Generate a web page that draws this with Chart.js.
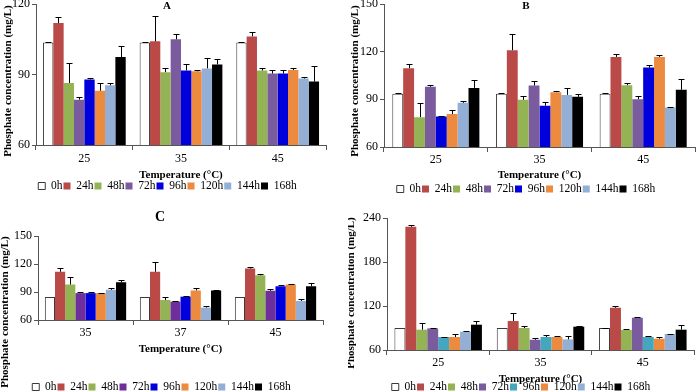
<!DOCTYPE html>
<html><head><meta charset="utf-8">
<script src="https://cdn.jsdelivr.net/npm/chart.js@4/dist/chart.umd.min.js"></script>
<style>
html,body{margin:0;padding:0;background:#fff;overflow:hidden;width:696px;height:391px;}
canvas{position:absolute;}
</style></head><body>
<canvas id="cA" width="348" height="205" style="left:0;top:0"></canvas>
<canvas id="cB" width="348" height="205" style="left:348px;top:0"></canvas>
<canvas id="cC" width="348" height="210" style="left:0;top:196px"></canvas>
<canvas id="cD" width="348" height="210" style="left:348px;top:196px"></canvas>
<script>
// ---- data ----
const seriesLabels = ['0h','24h','48h','72h','96h','120h','144h','168h'];
const tempsA = ['25','35','45'];
const tempsB = ['25','35','45'];
const tempsC = ['35','37','45'];
const tempsD = ['25','35','45'];
const ticksA = [60, 90, 120];
const ticksB = [60, 90, 120, 150];
const ticksC = [60, 90, 120, 150];
const ticksD = [60, 120, 180, 240];

// rows = series (0h..168h), columns = temperatures
const meanA = [
  [103.6, 103.6, 103.6],
  [111.9, 104.1, 106.2],
  [86.4, 91.0, 91.7],
  [79.3, 105.0, 90.4],
  [87.9, 91.7, 90.4],
  [83.1, 91.4, 91.9],
  [85.4, 92.6, 88.3],
  [97.4, 94.3, 87.0]
];
const errA = [
  [0.3, 0.3, 0.3],
  [2.4, 10.9, 1.7],
  [8.6, 1.9, 1.0],
  [1.0, 2.4, 1.5],
  [0.7, 2.6, 1.5],
  [3.3, 0.6, 1.0],
  [1.0, 4.5, 0.6],
  [4.7, 2.1, 6.6]
];
const meanB = [
  [93.5, 93.5, 93.5],
  [109.6, 120.9, 116.7],
  [78.8, 89.7, 98.9],
  [97.9, 98.7, 90.1],
  [79.2, 86.0, 110.0],
  [80.7, 94.5, 116.7],
  [87.8, 92.8, 84.9],
  [97.2, 91.6, 96.0]
];
const errB = [
  [0.4, 0.4, 0.4],
  [2.5, 10.0, 1.7],
  [8.8, 2.3, 1.3],
  [1.0, 2.7, 1.9],
  [0.3, 2.4, 1.7],
  [2.7, 1.0, 1.1],
  [1.3, 4.2, 0.3],
  [4.9, 1.7, 6.7]
];
const meanC = [
  [84.6, 84.6, 84.6],
  [111.7, 111.7, 115.2],
  [98.0, 81.4, 107.9],
  [88.8, 79.7, 91.3],
  [88.8, 85.0, 96.2],
  [88.8, 91.7, 98.0],
  [92.3, 73.3, 80.4],
  [100.5, 91.7, 96.2]
];
const errC = [
  [0, 0, 0],
  [3.5, 10.9, 1.8],
  [8.5, 3.2, 1.7],
  [1.0, 0.4, 1.4],
  [1.0, 0.7, 1.8],
  [0.3, 2.4, 1.1],
  [1.8, 1.8, 1.8],
  [2.1, 0.3, 3.9]
];
const meanD = [
  [90.0, 90.0, 90.0],
  [228.1, 99.5, 117.7],
  [87.7, 90.0, 87.3],
  [89.5, 74.0, 104.0],
  [77.7, 77.7, 77.7],
  [77.7, 77.7, 75.4],
  [85.0, 74.5, 81.8],
  [94.5, 91.8, 87.7]
];
const errD = [
  [0, 0, 0.5],
  [2.3, 10.9, 2.3],
  [9.1, 2.7, 1.3],
  [0.9, 2.8, 0.9],
  [0.5, 2.8, 0.9],
  [4.5, 0.9, 2.3],
  [0.9, 4.6, 0.5],
  [5.0, 0.9, 6.8]
];

// ---- styles ----
const colorsAB = ['#FFFFFF','#B94A47','#94B355','#7A5C9E','#0000DD','#EC8A40','#94AFD6','#000000'];
const colorsC  = ['#FFFFFF','#B94A47','#94B355','#6E2F9C','#0000DD','#EC8A40','#94AFD6','#000000'];
const colorsD  = ['#FFFFFF','#B94A47','#94B355','#7A5C9E','#45A6BF','#EC8A40','#94AFD6','#000000'];

Chart.defaults.font.family = '"Liberation Serif", "Times New Roman", serif';
Chart.defaults.color = '#000';

const errorBars = {
  id: 'errorBars',
  afterDatasetsDraw(chart) {
    const ctx = chart.ctx, ys = chart.scales.y;
    ctx.save();
    ctx.strokeStyle = '#000';
    ctx.lineWidth = 1;
    chart.data.datasets.forEach((ds, di) => {
      const meta = chart.getDatasetMeta(di);
      meta.data.forEach((bar, i) => {
        const e = ds.errors[i];
        if (!e) return;
        const yTop = Math.round(ys.getPixelForValue(ds.data[i] + e)) + 0.5;
        const x = Math.round(bar.x) + 0.5;
        ctx.beginPath();
        ctx.moveTo(x, bar.y);
        ctx.lineTo(x, yTop);
        ctx.moveTo(x - 3, yTop);
        ctx.lineTo(x + 3, yTop);
        ctx.stroke();
      });
    });
    ctx.restore();
  }
};

const panelText = {
  id: 'panelText',
  afterDraw(chart, args, opts) {
    const ctx = chart.ctx;
    ctx.save();
    ctx.fillStyle = '#000';
    ctx.textAlign = 'center';
    ctx.textBaseline = 'middle';
    if (opts.title) {
      ctx.font = opts.title.font;
      ctx.fillText(opts.title.text, opts.title.x, opts.title.y);
    }
    if (opts.ytitle) {
      ctx.translate(opts.ytitle.x, opts.ytitle.y);
      ctx.rotate(-Math.PI / 2);
      ctx.font = 'bold 11px "Liberation Serif"';
      ctx.fillText('Phosphate concentration (mg/L)', 0, 0);
    }
    ctx.restore();
  }
};

function makeChart(id, cfg) {
  const datasets = seriesLabels.map((lab, s) => ({
    label: lab,
    data: cfg.mean[s],
    errors: cfg.err[s],
    backgroundColor: cfg.colors[s],
    borderColor: s === 0 ? '#3a3a3a' : cfg.colors[s],
    borderWidth: s === 0 ? 1 : 0
  }));
  return new Chart(document.getElementById(id), {
    type: 'bar',
    data: { labels: cfg.labels, datasets },
    options: {
      responsive: false,
      animation: false,
      datasets: { bar: { categoryPercentage: cfg.catPct, barPercentage: 1 } },
      layout: { padding: cfg.pad },
      plugins: {
        legend: {
          position: 'bottom',
          labels: { boxWidth: 7, boxHeight: 7, padding: 1, font: { size: 11.5 }, color: '#000' }
        },
        tooltip: { enabled: false },
        panelText: { title: cfg.title, ytitle: cfg.ytitle }
      },
      scales: {
        x: {
          grid: { display: true, drawOnChartArea: false, drawTicks: true, tickLength: 5, color: '#555', offset: true },
          border: { color: '#555' },
          ticks: { padding: cfg.xTickPad, font: { size: 12 }, color: '#000', maxRotation: 0 },
          title: { display: true, text: 'Temperature (°C)', font: { size: 11, weight: 'bold' }, color: '#000',
                   padding: { top: 0, bottom: cfg.xTitlePad } },
          afterFit: s => { s.height = cfg.xH; s.paddingLeft = 0; s.paddingRight = 0; }
        },
        y: {
          min: cfg.ticks[0],
          max: cfg.ticks[cfg.ticks.length - 1],
          afterBuildTicks: s => { s.ticks = cfg.ticks.map(v => ({ value: v })); },
          grid: { drawOnChartArea: false, tickLength: 4, color: '#555' },
          border: { color: '#555' },
          ticks: { padding: 2, font: { size: 12 }, color: '#000' },
          afterFit: s => { s.width = cfg.yW; s.paddingTop = 0; s.paddingBottom = 0; }
        }
      }
    },
    plugins: [errorBars, panelText]
  });
}

makeChart('cA', {
  labels: tempsA, mean: meanA, err: errA, colors: colorsAB, ticks: ticksA, catPct: 0.856,
  pad: { left: 9, right: 22, top: 4, bottom: 3.25 }, yW: 27, xH: 34.25, xTickPad: 2, xTitlePad: -2.35,
  title: { text: 'A', x: 167, y: 6, font: 'bold 11px "Liberation Serif"' },
  ytitle: { x: 8, y: 81 }
});
makeChart('cB', {
  labels: tempsB, mean: meanB, err: errB, colors: colorsAB, ticks: ticksB, catPct: 0.84,
  pad: { left: 9, right: 1, top: 4, bottom: 0.25 }, yW: 27, xH: 35.25, xTickPad: 1, xTitlePad: 0.65,
  title: { text: 'B', x: 178, y: 6, font: 'bold 11px "Liberation Serif"' },
  ytitle: { x: 7, y: 81 }
});
makeChart('cC', {
  labels: tempsC, mean: meanC, err: errC, colors: colorsC, ticks: ticksC, catPct: 0.856,
  pad: { left: 0, right: 25, top: 40, bottom: 3.25 }, yW: 38, xH: 60.25, xTickPad: 1, xTitlePad: 24.65,
  title: { text: 'C', x: 160, y: 21, font: 'bold 14px "Liberation Serif"' },
  ytitle: { x: 5, y: 116 }
});
makeChart('cD', {
  labels: tempsD, mean: meanD, err: errD, colors: colorsD, ticks: ticksD, catPct: 0.855,
  pad: { left: 0, right: 2, top: 22, bottom: 3.25 }, yW: 39, xH: 30.25, xTickPad: 1, xTitlePad: -5.35,
  title: null,
  ytitle: { x: 3, y: 97 }
});
</script>
</body></html>
